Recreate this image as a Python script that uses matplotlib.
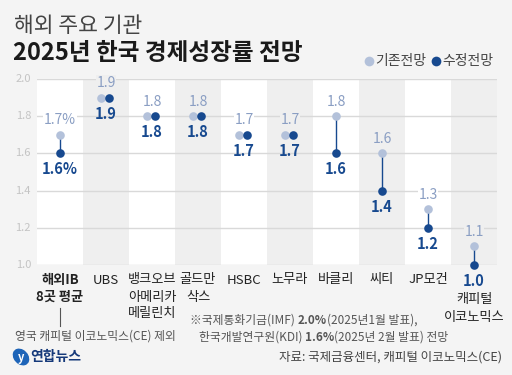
import numpy as np
import matplotlib as mpl
import matplotlib.pyplot as plt
from matplotlib.patches import Ellipse

mpl.rcParams["font.family"] = ["Noto Sans CJK KR", "DejaVu Sans"]
mpl.rcParams["axes.unicode_minus"] = False

# ===== DATA =====
labels = ["해외IB\n8곳 평균", "UBS", "뱅크오브\n아메리카\n메릴린치", "골드만\n삭스", "HSBC",
          "노무라", "바클리", "씨티", "JP모건", "캐피털\n이코노믹스"]
before = [1.7, 1.9, 1.8, 1.8, 1.7, 1.7, 1.8, 1.6, 1.3, 1.1]
after = [1.6, 1.9, 1.8, 1.8, 1.7, 1.7, 1.6, 1.4, 1.2, 1.0]
yticks = [1.0, 1.2, 1.4, 1.6, 1.8, 2.0]

# ===== COLORS =====
BG = "#f4f4f4"
COL_GRAY = "#efefef"
LIGHT = "#b3c1da"
LIGHT_TXT = "#8a9ec3"
DARK = "#17498f"
GRID = "#d9d9d9"
NOTE = "#555555"

W, H = 512, 375
fig = plt.figure(figsize=(W / 100, H / 100), dpi=100, facecolor=BG)


def fx(px):
    return px / W


def fy(py):
    return 1 - py / H


ax = fig.add_axes([fx(37), fy(265), fx(497) - fx(37), fy(79) - fy(265)])
ax.set_facecolor("white")
ax.set_xlim(-0.5, len(labels) - 0.5)
ax.set_ylim(1.0, 2.0)
for s in ax.spines.values():
    s.set_visible(False)
ax.set_xticks([])
ax.set_yticks([])

x = np.arange(len(labels))
for i in x:
    if i % 2 == 1:
        ax.axvspan(i - 0.5, i + 0.5, color=COL_GRAY, zorder=0, lw=0)

for t in yticks:
    ax.axhline(t, color=GRID, lw=1.0, zorder=1)
    fig.text(fx(31), fy(265 - (t - 1.0) * 186), f"{t:.1f}", ha="right", va="center",
             fontsize=8, color="#c4c4c4")

dx = 46.0  # px per column
off_l, off_r = -5 / dx, 3 / dx
ms = 6.2

for i, (b, a) in enumerate(zip(before, after)):
    bgc = COL_GRAY if i % 2 == 1 else "white"
    if b == a:
        xb, xa = i + off_l, i + off_r
    else:
        xb, xa = i, i
        ax.plot([i, i], [b, a], color=DARK, lw=1.0, zorder=2, solid_capstyle="butt")
    ax.plot(xb, b, "o", ms=ms, color=LIGHT, mec="none", zorder=3, clip_on=False)
    ax.plot(xa, a, "o", ms=ms, color=DARK, mec="none", zorder=4, clip_on=False)
    sfx = "%" if i == 0 else ""
    ax.annotate(f"{b:.1f}{sfx}", (i, b), xytext=(0, 10.5), textcoords="offset points",
                ha="center", va="center", fontsize=10, color=LIGHT_TXT, zorder=5,
                bbox=dict(boxstyle="square,pad=0.05", fc=bgc, ec="none"))
    ax.annotate(f"{a:.1f}{sfx}", (i, a), xytext=(0, -11.5), textcoords="offset points",
                ha="center", va="center", fontsize=10.5, color=DARK, fontweight="bold",
                zorder=5, annotation_clip=False)

# category labels
for i, lab in enumerate(labels):
    cx = 37 + dx * (i + 0.5)
    top = 300 if i == len(labels) - 1 else 280
    for j, line in enumerate(lab.split("\n")):
        fig.text(fx(cx), fy(top + 17 * j), line, ha="center", va="center", fontsize=9.5,
                 color="#222222", fontweight="bold" if i == 0 else "normal")

# note under first column
fig.add_artist(plt.Line2D([fx(60), fx(60)], [fy(308), fy(326)], color=NOTE, lw=0.8))
fig.text(fx(95), fy(336), "영국 캐피털 이코노믹스(CE) 제외", ha="center", va="center",
         fontsize=8.5, color=NOTE)


# rich text notes: chain pieces left to right
def chain(px, py, parts):
    prev = None
    for txt, bold in parts:
        kw = dict(fontsize=8.5, color=NOTE, fontweight="bold" if bold else "normal",
                  va="bottom", ha="left")
        if prev is None:
            prev = fig.text(fx(px), fy(py), txt, **kw)
        else:
            prev = ax.annotate(txt, xy=(1, 0), xycoords=prev, annotation_clip=False, **kw)


chain(190, 327, [("※국제통화기금(IMF) ", False), ("2.0%", True), ("(2025년1월 발표),", False)])
chain(199, 344, [("한국개발연구원(KDI) ", False), ("1.6%", True), ("(2025년 2월 발표) 전망", False)])

# titles
fig.text(fx(14), fy(26), "해외 주요 기관", ha="left", va="center", fontsize=15.5,
         color="#444444", fontweight="light")
fig.text(fx(13), fy(53), "2025년 한국 경제성장률 전망", ha="left", va="center", fontsize=17,
         color="#1a1a1a", fontweight="bold")

# legend
fig.add_artist(plt.Line2D([fx(369)], [fy(61)], marker="o", ms=7, color=LIGHT, mec="none"))
fig.text(fx(375), fy(61), "기존전망", ha="left", va="center", fontsize=10, color="#444444")
fig.add_artist(plt.Line2D([fx(436)], [fy(61)], marker="o", ms=7, color=DARK, mec="none"))
fig.text(fx(442), fy(61), "수정전망", ha="left", va="center", fontsize=10, color="#444444")

# logo + source
fig.add_artist(Ellipse((fx(21), fy(357)), fx(14), 16 / H, angle=20, color="#1d64b8"))
fig.text(fx(21), fy(357), "y", ha="center", va="center", fontsize=8, color="white",
         fontweight="bold", style="italic")
fig.text(fx(30), fy(357), "연합뉴스", ha="left", va="center", fontsize=10,
         color="#15397a", fontweight="bold")
fig.text(fx(502), fy(357), "자료: 국제금융센터, 캐피털 이코노믹스(CE)", ha="right", va="center",
         fontsize=9, color="#444444")

fig.savefig("out.png", dpi=100, facecolor=BG)
